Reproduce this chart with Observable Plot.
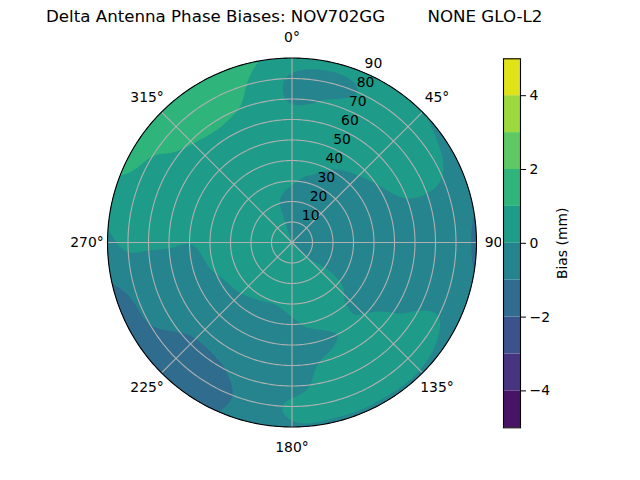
<!DOCTYPE html>
<html><head><meta charset="utf-8">
<script src="https://cdn.jsdelivr.net/npm/d3@7"></script>
<script src="https://cdn.jsdelivr.net/npm/@observablehq/plot@0.6"></script>
<style>
body{margin:0;background:#fff;font-family:"DejaVu Sans",sans-serif;}
#wrap{position:relative;width:640px;height:480px;overflow:hidden;background:#fff;}
#title{position:absolute;left:46px;top:9px;font-size:16.67px;line-height:1;white-space:pre;color:#000;}
#main{position:absolute;left:0;top:0;}
#cbar{position:absolute;left:501px;top:0;background:#fff;}
</style></head><body>
<div id="wrap"><div id="main"></div><div id="cbar"></div><div id="title">Delta Antenna Phase Biases: NOV702GG        NONE GLO-L2</div></div>
<script>
// ---- data ----
const azimuths = [0,15,30,45,60,75,90,105,120,135,150,165,180,195,210,225,240,255,270,285,300,315,330,345];
const zeniths = [0,10,20,30,40,50,60,70,80,90];
// bias (mm) per azimuth column, values at each zenith in `zeniths`
const biasByAzimuth = [
  [0,-0.5,-0.4,0.1,0.4,0.5,0.4,-0.1,-0.12,0.5],
  [0,-0.5,-0.5,-0.2,0.3,0.5,0.4,0.1,-0.25,0.3],
  [0,-0.5,-0.5,-0.4,-0.05,0.4,0.5,0.4,0.2,0.3],
  [0,-0.5,-0.5,-0.5,-0.3,0.2,0.5,0.5,0.3,0.05],
  [0,-0.5,-0.5,-0.5,-0.5,-0.1,0.3,0.3,0.2,-0.3],
  [0,-0.5,-0.5,-0.5,-0.5,-0.4,-0.2,-0.15,-0.3,-0.8],
  [0,-0.5,-0.5,-0.5,-0.5,-0.5,-0.5,-0.5,-0.5,-1.2],
  [0,-0.5,-0.5,-0.5,-0.5,-0.5,-0.5,-0.4,-0.4,-0.8],
  [0,-0.5,-0.3,-0.3,-0.3,-0.3,-0.2,0.05,0.1,-0.3],
  [0,0.05,0.3,0.2,-0.1,0.02,0.4,0.5,0.4,-0.1],
  [0,0.3,0.5,0.5,0.3,0.05,0.3,0.5,0.4,-0.1],
  [0,0.3,0.5,0.4,0.15,-0.2,0.05,0.3,0.4,-0.1],
  [0,0.3,0.5,0.2,-0.1,-0.3,-0.3,-0.3,0.15,-0.1],
  [0,0.3,0.4,0.05,-0.3,-0.5,-0.5,-0.6,-0.7,-0.7],
  [0,0.3,0.4,0.1,-0.3,-0.5,-0.7,-1.05,-1.3,-1.2],
  [0,0.3,0.4,0.2,-0.2,-0.5,-0.8,-1.1,-1.3,-1.4],
  [0,0.3,0.4,0.3,-0.1,-0.4,-0.6,-0.8,-1.0,-1.3],
  [0,0.3,0.4,0.3,0.1,-0.3,-0.5,-0.6,-0.8,-1.1],
  [0,0.3,0.4,0.4,0.2,0.02,0.1,0.14,0.2,-0.2],
  [0,0.3,0.4,0.4,0.4,0.4,0.4,0.5,0.6,0.56],
  [0,0.3,0.4,0.4,0.5,0.5,0.6,0.8,0.95,1.5],
  [0,0.3,0.4,0.5,0.5,0.6,0.8,1.05,1.4,1.5],
  [0,0.3,0.3,0.4,0.5,0.6,0.8,1.1,1.3,1.4],
  [0,-0.1,-0.05,0.3,0.5,0.5,0.6,0.8,0.95,1.2]
];
const levels = [-5,-4,-3,-2,-1,0,1,2,3,4,5];
const colorbarTicks = [-4,-2,0,2,4];
const ringValues = [10,20,30,40,50,60,70,80,90];
const spokeAngles = [0,45,90,135,180,225,270,315];
const rLabelAngle = 22.5;
const cbarLabel = "Bias (mm)";

// ---- helpers ----
const rad = Math.PI / 180;
const nAz = azimuths.length, azStep = azimuths[1] - azimuths[0];
const nZ = zeniths.length, zMax = zeniths[nZ - 1], zStep = zeniths[1] - zeniths[0];
function cell(i, j) {
  const col = biasByAzimuth[((i % nAz) + nAz) % nAz];
  if (j < 0) return 2 * col[0] - col[1];
  if (j > nZ - 1) return 2 * col[nZ - 1] - col[nZ - 2];
  return col[j];
}
function cubic(p0, p1, p2, p3, t) {
  return 0.5 * (2 * p1 + (p2 - p0) * t + (2 * p0 - 5 * p1 + 4 * p2 - p3) * t * t + (3 * p1 - p0 - 3 * p2 + p3) * t * t * t);
}
function biasAt(x, y) {
  const zen = Math.min(Math.hypot(x, y), zMax);
  let az = Math.atan2(x, y) / rad; if (az < 0) az += 360;
  const fi = az / azStep, i = Math.floor(fi), ti = fi - i;
  const fj = zen / zStep, j = Math.min(Math.floor(fj), nZ - 2), tj = fj - j;
  const c = [-1, 0, 1, 2].map(di => cubic(cell(i + di, j - 1), cell(i + di, j), cell(i + di, j + 1), cell(i + di, j + 2), tj));
  return cubic(c[0], c[1], c[2], c[3], ti);
}
const bandColors = d3.range(levels.length - 1).map(i => d3.interpolateViridis(((levels[i] + levels[i+1]) / 2 - levels[0]) / (levels[levels.length-1] - levels[0])));
const color = {type: "threshold", domain: levels.slice(1, -1), range: bandColors};
const fmt = d => d < 0 ? "\u2212" + (-d) : String(d);

const angles = d3.range(0, 361, 1);
const ringPts = ringValues.filter(r => r < zMax).flatMap(r => angles.map(a => ({r, a})));
const outerPts = angles.map(a => ({r: zMax, a}));
const px = d => d.r * Math.sin(d.a * rad), py = d => d.r * Math.cos(d.a * rad);

// ---- main polar chart ----
const W = 640, H = 480;
const main = Plot.plot({
  width: W, height: H,
  marginLeft: 107, marginRight: W - 476, marginTop: 57.5, marginBottom: H - 426.5,
  x: {domain: [-90, 90], axis: null},
  y: {domain: [-90, 90], axis: null},
  color,
  style: {fontFamily: "DejaVu Sans", fontSize: "13.9px", background: "transparent"},
  marks: [
    Plot.contour({x1: -90, x2: 90, y1: -90, y2: 90, fill: biasAt, thresholds: levels, stroke: "none"}),
    Plot.line(ringPts, {x: px, y: py, z: "r", stroke: "#b0b0b0", strokeWidth: 1.1}),
    Plot.link(spokeAngles, {x1: 0, y1: 0, x2: a => zMax * Math.sin(a * rad), y2: a => zMax * Math.cos(a * rad), stroke: "#b0b0b0", strokeWidth: 1.1}),
    Plot.line(outerPts, {x: px, y: py, stroke: "black", strokeWidth: 1.1}),
    Plot.text(spokeAngles, {x: a => 100 * Math.sin(a * rad), y: a => 100 * Math.cos(a * rad), text: a => a + "°", fontSize: 13.9, fill: "black"}),
    Plot.text(ringValues, {x: r => r * Math.sin(rLabelAngle * rad), y: r => r * Math.cos(rLabelAngle * rad), text: r => String(r), textAnchor: "start", dx: 2, dy: -8, fontSize: 13.9, fill: "black"})
  ]
});
{
  const sx = main.scale("x"), sy = main.scale("y");
  const cx = sx.apply(0), cy = sy.apply(0), r = sx.apply(zMax) - cx;
  const svg = d3.select(main);
  svg.insert("defs", ":first-child").append("clipPath").attr("id", "polar-clip")
    .append("circle").attr("cx", cx).attr("cy", cy).attr("r", r);
  svg.selectAll('g[aria-label="contour"]').attr("clip-path", "url(#polar-clip)");
}
document.getElementById("main").appendChild(main);

// ---- colorbar ----
const bands = d3.range(levels.length - 1).map(i => ({lo: levels[i], hi: levels[i+1]}));
const CW = 139;
const cbar = Plot.plot({
  width: CW, height: H,
  marginLeft: 2, marginRight: CW - 19, marginTop: 58.3, marginBottom: H - 427.3,
  x: {domain: [0, 1], axis: null},
  y: {domain: [levels[0], levels[levels.length-1]], axis: null},
  color,
  style: {fontFamily: "DejaVu Sans", fontSize: "13.9px", background: "white"},
  marks: [
    Plot.rect(bands, {x1: 0, x2: 1, y1: "lo", y2: "hi", fill: "lo"}),
    Plot.frame({stroke: "black", strokeWidth: 1.1}),
    Plot.axisY(colorbarTicks, {anchor: "right", tickSize: 5, tickPadding: 4, tickFormat: fmt, label: null, fontSize: 13.9, stroke: "black", color: "black"}),
    Plot.text([cbarLabel], {frameAnchor: "middle", text: d => d, rotate: -90, dx: 51, fontSize: 13.9, fill: "black"})
  ]
});
document.getElementById("cbar").appendChild(cbar);
</script>
</body></html>
